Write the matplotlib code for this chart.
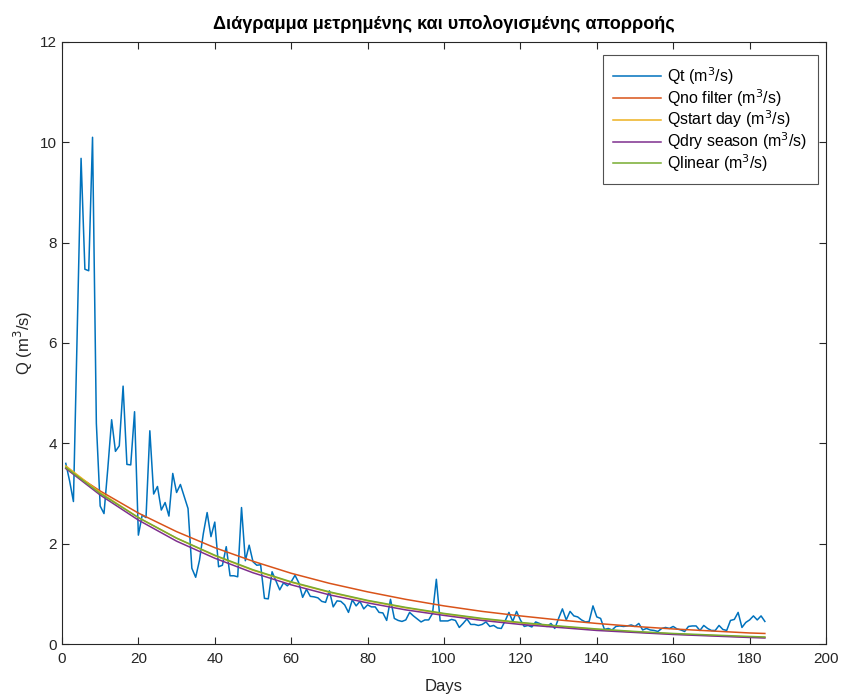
import matplotlib
matplotlib.use('Agg')
import matplotlib.pyplot as plt
import numpy as np

plt.rcParams['font.family'] = ['Liberation Sans', 'DejaVu Sans']

# measured daily discharge
qt = [3.60, 3.25, 2.84, 6.30, 9.68, 7.47, 7.44, 10.10, 4.40, 2.75,
      2.60, 3.50, 4.47, 3.84, 3.95, 5.14, 3.58, 3.57, 4.63, 2.17,
      2.57, 2.52, 4.25, 2.99, 3.14, 2.67, 2.82, 2.55, 3.40, 3.02,
      3.18, 2.94, 2.70, 1.51, 1.33, 1.67, 2.20, 2.62, 2.14, 2.43,
      1.54, 1.57, 1.94, 1.36, 1.36, 1.34, 2.72, 1.66, 1.97, 1.64,
      1.57, 1.58, 0.91, 0.90, 1.44, 1.26, 1.08, 1.22, 1.16, 1.24,
      1.37, 1.22, 0.93, 1.09, 0.95, 0.94, 0.92, 0.85, 0.83, 1.06,
      0.74, 0.86, 0.85, 0.78, 0.63, 0.88, 0.76, 0.85, 0.70, 0.78,
      0.74, 0.74, 0.63, 0.62, 0.47, 0.89, 0.51, 0.47, 0.45, 0.48,
      0.63, 0.56, 0.50, 0.44, 0.48, 0.48, 0.61, 1.29, 0.46, 0.46,
      0.46, 0.49, 0.47, 0.33, 0.41, 0.50, 0.39, 0.39, 0.37, 0.39,
      0.44, 0.35, 0.37, 0.32, 0.31, 0.46, 0.63, 0.45, 0.65, 0.48,
      0.35, 0.37, 0.34, 0.44, 0.41, 0.37, 0.35, 0.41, 0.31, 0.51,
      0.70, 0.48, 0.65, 0.56, 0.54, 0.48, 0.44, 0.45, 0.76, 0.54,
      0.51, 0.29, 0.31, 0.28, 0.35, 0.36, 0.35, 0.36, 0.38, 0.35,
      0.41, 0.28, 0.31, 0.28, 0.27, 0.25, 0.31, 0.33, 0.31, 0.35,
      0.30, 0.28, 0.25, 0.35, 0.36, 0.36, 0.27, 0.37, 0.31, 0.27,
      0.27, 0.37, 0.29, 0.27, 0.47, 0.49, 0.63, 0.33, 0.43, 0.48,
      0.56, 0.48, 0.56, 0.45]
days = np.arange(1, len(qt) + 1)

# computed recession curves, read every 10 days
curve_days = [1, 10, 20, 30, 40, 50, 60, 70, 80, 90, 100, 110, 120, 130, 140, 150, 160, 170, 180, 184]
q_no_filter = [3.50, 3.05, 2.61, 2.24, 1.92, 1.65, 1.41, 1.21, 1.04, 0.89,
               0.76, 0.65, 0.56, 0.48, 0.41, 0.35, 0.30, 0.26, 0.22, 0.21]
q_start_day = [3.55, 3.02, 2.52, 2.11, 1.76, 1.47, 1.23, 1.03, 0.86, 0.72,
               0.60, 0.50, 0.42, 0.35, 0.29, 0.24, 0.20, 0.17, 0.14, 0.13]
q_dry_season = [3.50, 2.97, 2.47, 2.05, 1.71, 1.42, 1.18, 0.98, 0.82, 0.68,
                0.57, 0.47, 0.39, 0.33, 0.27, 0.23, 0.19, 0.16, 0.13, 0.12]
q_linear = [3.52, 3.00, 2.52, 2.11, 1.77, 1.48, 1.24, 1.04, 0.87, 0.73,
            0.61, 0.51, 0.43, 0.36, 0.30, 0.25, 0.21, 0.18, 0.15, 0.14]

fig = plt.figure(figsize=(8.42, 6.96), dpi=100)
ax = fig.add_axes([0.0736, 0.0747, 0.9074, 0.865])

lw = 1.1
ax.plot(days, qt, color='#0072BD', lw=lw, label='Qt (m$^3$/s)')
ax.plot(curve_days, q_no_filter, color='#D95319', lw=lw, label='Qno filter (m$^3$/s)')
ax.plot(curve_days, q_start_day, color='#EDB120', lw=lw, label='Qstart day (m$^3$/s)')
ax.plot(curve_days, q_dry_season, color='#7E2F8E', lw=lw, label='Qdry season (m$^3$/s)')
ax.plot(curve_days, q_linear, color='#77AC30', lw=lw, label='Qlinear (m$^3$/s)')

ax.set_xlim(0, 200)
ax.set_ylim(0, 12)
ax.set_xticks(range(0, 201, 20))
ax.set_yticks(range(0, 13, 2))
ax.tick_params(direction='in', length=5, width=0.8, colors='#262626', labelsize=11,
               top=True, right=True)
ax.tick_params(axis='x', pad=6)
for s in ax.spines.values():
    s.set_color('#262626')
    s.set_linewidth(0.8)

ax.set_xlabel('Days', fontsize=12, color='#262626', labelpad=9)
ax.set_ylabel('Q (m$^3$/s)', fontsize=12, color='#262626', labelpad=4)
ax.set_title('Διάγραμμα μετρημένης και υπολογισμένης απορροής', fontsize=13,
             fontweight='bold', color='black', pad=9)

leg = ax.legend(loc='upper right', bbox_to_anchor=(0.9895, 0.9785), fontsize=11.5,
                frameon=True, fancybox=False, edgecolor='#262626', handlelength=3.0,
                borderpad=0.65, labelspacing=0.0, handletextpad=0.4, borderaxespad=0)
leg.get_frame().set_linewidth(0.8)

fig.savefig('out.png', dpi=100)
